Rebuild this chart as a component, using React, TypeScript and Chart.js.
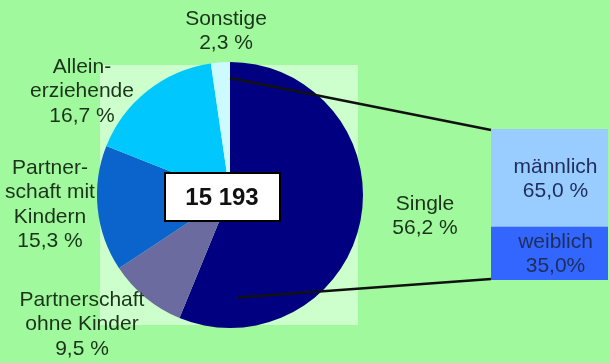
import React, { useEffect, useRef } from "react";
import { Chart, registerables } from "chart.js";

Chart.register(...registerables);

// ---- data ----
const categories = ["Single", "Partnerschaft ohne Kinder", "Partnerschaft mit Kindern", "Alleinerziehende", "Sonstige"];
const shares = [56.2, 9.5, 15.3, 16.7, 2.3];
const labelLines = [
  ["Single", "56,2 %"],
  ["Partnerschaft", "ohne Kinder", "9,5 %"],
  ["Partner-", "schaft mit", "Kindern", "15,3 %"],
  ["Allein-", "erziehende", "16,7 %"],
  ["Sonstige", "2,3 %"],
];
const totalLabel = "15 193";
const genderCategories = ["weiblich", "männlich"];
const genderShares = [35.0, 65.0];
const genderValueLabels = ["35,0%", "65,0 %"];

// ---- styles / layout ----
const sliceColors = ["#000080", "#6B6BA0", "#0A64CC", "#00C8FF", "#CCFAFF"];
const genderColors = ["#3366FF", "#99CCFF"];
const BG = "#A0F99C";
const PLOT_BG = "#CCFFCC";
const LABEL_COLOR = "#1A331A";
const BOX_TEXT = "#1E2D5A";
const FONT = '"Liberation Sans", Arial, sans-serif';
// label anchor offsets from the pie centre (first line centre)
const labelOffsets = [
  [195, 9],
  [-148, 105],
  [-180, -27],
  [-148, -128],
  [-4, -176],
];
const LINE_H = 24.5;
const BAR_BOX = { left: 491, top: 129, width: 117, height: 151 };

export default function App() {
  const pieRef = useRef<HTMLCanvasElement>(null);
  const barRef = useRef<HTMLCanvasElement>(null);

  useEffect(() => {
    const decor = {
      id: "decor",
      beforeDatasetsDraw(chart: any) {
        const arc = chart.getDatasetMeta(0).data[0];
        const { x, y } = arc;
        const ctx = chart.ctx;
        ctx.save();
        ctx.fillStyle = PLOT_BG;
        ctx.fillRect(x - 130, y - 130, 258, 260);
        ctx.restore();
      },
      afterDatasetsDraw(chart: any) {
        const arc = chart.getDatasetMeta(0).data[0];
        const { x, y, outerRadius: r } = arc;
        const ctx = chart.ctx;
        ctx.save();
        // connector lines
        ctx.strokeStyle = "#111";
        ctx.lineWidth = 2.5;
        ctx.beginPath();
        ctx.moveTo(x, y - r * 0.88);
        ctx.lineTo(BAR_BOX.left, BAR_BOX.top + 1);
        ctx.moveTo(x + 7, y + r * 0.77);
        ctx.lineTo(BAR_BOX.left, BAR_BOX.top + BAR_BOX.height - 1);
        ctx.stroke();
        // centre total box
        ctx.fillStyle = "#fff";
        ctx.fillRect(x - 65, y - 22, 115, 48);
        ctx.strokeStyle = "#000";
        ctx.lineWidth = 2;
        ctx.strokeRect(x - 65, y - 22, 115, 48);
        ctx.fillStyle = "#111";
        ctx.font = `bold 24px ${FONT}`;
        ctx.textAlign = "center";
        ctx.textBaseline = "middle";
        ctx.fillText(totalLabel, x - 8, y + 3);
        // slice labels
        ctx.font = `21px ${FONT}`;
        ctx.fillStyle = LABEL_COLOR;
        labelLines.forEach((lines, i) => {
          const [dx, dy] = labelOffsets[i];
          lines.forEach((t, j) => ctx.fillText(t, x + dx, y + dy + j * LINE_H));
        });
        ctx.restore();
      },
    };

    const pie = new Chart(pieRef.current!, {
      type: "pie",
      data: {
        labels: categories,
        datasets: [
          {
            data: shares,
            backgroundColor: sliceColors,
            borderWidth: 0,
            hoverOffset: 0,
          },
        ],
      },
      options: {
        responsive: false,
        animation: false,
        layout: { padding: { left: 97, right: 247, top: 62, bottom: 35 } },
        plugins: { legend: { display: false }, tooltip: { enabled: false } },
        events: [],
      },
      plugins: [decor],
    });

    const barLabels = {
      id: "barLabels",
      afterDatasetsDraw(chart: any) {
        const ctx = chart.ctx;
        ctx.save();
        ctx.font = `21px ${FONT}`;
        ctx.fillStyle = BOX_TEXT;
        ctx.textAlign = "center";
        ctx.textBaseline = "middle";
        chart.data.datasets.forEach((ds: any, i: number) => {
          const el = chart.getDatasetMeta(i).data[0];
          const cy = (el.y + el.base) / 2;
          ctx.fillText(genderCategories[i], el.x + 6, cy - 11);
          ctx.fillText(genderValueLabels[i], el.x + 6, cy + 13);
        });
        ctx.restore();
      },
    };

    const bar = new Chart(barRef.current!, {
      type: "bar",
      data: {
        labels: [""],
        datasets: genderCategories.map((c, i) => ({
          label: c,
          data: [genderShares[i]],
          backgroundColor: genderColors[i],
          borderWidth: 0,
          barPercentage: 1,
          categoryPercentage: 1,
        })),
      },
      options: {
        responsive: false,
        animation: false,
        layout: { padding: 0 },
        scales: {
          x: { stacked: true, display: false },
          y: { stacked: true, display: false, min: 0, max: 100 },
        },
        plugins: { legend: { display: false }, tooltip: { enabled: false } },
        events: [],
      },
      plugins: [barLabels],
    });

    return () => {
      pie.destroy();
      bar.destroy();
    };
  }, []);

  return (
    <div
      style={{
        position: "fixed",
        left: 0,
        top: 0,
        width: 610,
        height: 363,
        background: BG,
        overflow: "hidden",
      }}
    >
      <canvas ref={pieRef} width={610} height={363} style={{ position: "absolute", left: 0, top: 0 }} />
      <canvas
        ref={barRef}
        width={BAR_BOX.width}
        height={BAR_BOX.height}
        style={{ position: "absolute", left: BAR_BOX.left, top: BAR_BOX.top }}
      />
    </div>
  );
}
